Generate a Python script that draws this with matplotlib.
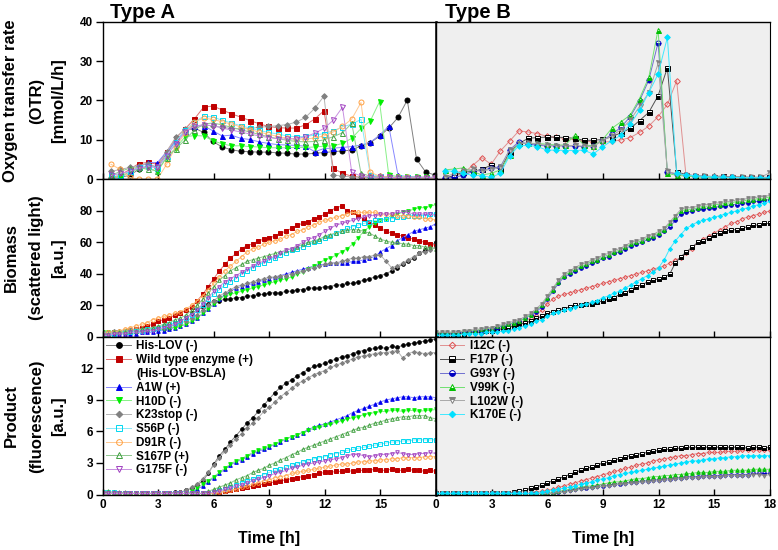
import numpy as np
import matplotlib.pyplot as plt
from matplotlib.lines import Line2D

plt.rcParams['font.family'] = ['Liberation Sans', 'DejaVu Sans']
plt.rcParams['font.weight'] = 'bold'

# Time grids [h]
t_otr_a = np.arange(0.45, 18.0, 0.5)   # OTR, type A (36 points)
t_otr_b = np.arange(0.47, 18.0, 0.5)   # OTR, type B (36 points)
t_bl = np.arange(0, 18.01, 0.3)        # biomass / product (61 points)

names_a = ['His-LOV (-)', 'Wild type enzyme (+)', 'A1W (+)', 'H10D (-)', 'K23stop (-)',
           'S56P (-)', 'D91R (-)', 'S167P (+)', 'G175F (-)']
names_b = ['I12C (-)', 'F17P (-)', 'G93Y (-)', 'V99K (-)', 'L102W (-)', 'K170E (-)']

# ---- OTR [mmol/L/h], type A
otr_hislov = [0.3, 0.5, 1.0, 2.5, 3.5, 3.2, 6.5, 9.8, 12.3, 13.0, 11.9, 9.6, 8.2, 7.5, 7.1, 7.0, 6.9, 6.9,
              6.7, 6.6, 6.4, 6.4, 6.6, 6.8, 7.0, 7.2, 7.4, 8.5, 9.3, 10.9, 13.0, 15.7, 20.1, 5.1, 1.8, 1.1]
otr_wt = [0.5, 1.0, 2.5, 4.0, 4.3, 3.8, 7.0, 10.5, 12.8, 15.3, 18.3, 18.6, 17.6, 16.6, 15.8, 14.9, 14.1, 13.4,
          13.1, 13.0, 13.0, 13.8, 15.3, 17.4, 2.8, 1.5, 0.8, 0.5, 0.4, 0.3, 0.3, 0.3, 0.3, 0.2, 0.2, 0.2]
otr_a1w = [0.0, 0.5, 2.0, 3.0, 4.3, 4.2, 7.0, 9.7, 12.3, 13.4, 13.6, 12.3, 11.0, 11.2, 10.4, 10.1, 9.5, 9.1,
           8.8, 8.7, 8.6, 8.4, 7.0, 7.8, 7.9, 8.1, 8.3, 8.7, 9.4, 11.2, 13.5, 1.0, 0.7, 0.6, 0.5, 0.5]
otr_h10d = [0.9, 0.3, 2.0, 2.5, 3.0, 1.9, 5.5, 8.0, 10.8, 11.1, 11.0, 9.8, 9.0, 8.5, 8.5, 8.3, 8.2, 8.0,
            8.0, 8.0, 8.1, 8.1, 8.2, 8.4, 8.5, 9.1, 10.4, 12.9, 14.8, 19.7, 1.1, 0.7, 0.6, 0.5, 0.5, 0.4]
otr_k23 = [2.0, 2.5, 3.0, 3.5, 4.0, 3.0, 7.0, 10.7, 12.7, 13.5, 13.8, 13.6, 13.2, 12.9, 12.8, 12.9, 13.2, 13.4,
           13.6, 13.9, 14.5, 15.7, 18.0, 21.1, 1.1, 0.8, 0.6, 0.5, 0.5, 0.5, 0.5, 0.5, 0.5, 0.5, 0.5, 0.5]
otr_s56p = [1.0, 1.2, 2.0, 3.0, 3.5, 2.8, 6.0, 9.5, 12.5, 14.5, 16.0, 15.8, 15.0, 14.3, 13.6, 13.0, 12.4, 11.9,
            11.5, 11.0, 10.8, 10.9, 11.2, 11.6, 12.3, 13.3, 14.0, 15.2, 1.2, 0.8, 0.6, 0.5, 0.5, 0.4, 0.4, 0.4]
otr_d91r = [3.8, 2.5, 0.5, 0.0, 0.0, 0.0, 3.8, 8.3, 11.7, 14.6, 15.5, 15.2, 14.6, 14.0, 13.3, 12.6, 12.0, 11.4,
            10.9, 10.4, 10.2, 10.2, 10.5, 11.0, 12.0, 13.4, 15.3, 19.5, 1.8, 0.8, 0.6, 0.5, 0.5, 0.4, 0.4, 0.4]
otr_s167p = [1.0, 2.0, 2.8, 3.0, 2.5, 2.2, 5.5, 7.7, 10.0, 12.5, 14.0, 14.3, 13.8, 13.2, 12.6, 12.0, 11.4, 10.8,
             10.3, 9.9, 9.6, 9.5, 9.6, 10.0, 10.8, 11.8, 14.2, 1.5, 0.8, 0.6, 0.5, 0.5, 0.4, 0.4, 0.4, 0.4]
otr_g175f = [1.0, 1.5, 2.0, 2.8, 3.2, 3.0, 6.0, 9.0, 12.0, 13.5, 13.8, 13.6, 13.0, 12.5, 12.0, 11.5, 11.0, 10.6,
             10.3, 10.2, 10.3, 10.8, 11.7, 12.9, 15.0, 18.3, 1.8, 0.8, 0.6, 0.5, 0.5, 0.4, 0.4, 0.4, 0.4, 0.4]

# ---- OTR [mmol/L/h], type B
otr_i12c = [0.3, 0.8, 1.5, 3.5, 5.5, 3.8, 7.2, 9.7, 12.3, 12.0, 11.6, 10.9, 10.7, 10.3, 10.1, 9.7, 9.5, 9.4,
            9.6, 10.0, 10.6, 11.9, 13.5, 15.9, 19.0, 25.0, 1.1, 0.8, 0.6, 0.5, 0.5, 0.4, 0.4, 0.4, 0.3, 0.3]
otr_f17p = [0.2, 1.0, 1.8, 2.0, 2.5, 3.6, 2.4, 7.0, 9.1, 10.4, 10.6, 10.7, 10.7, 10.6, 10.4, 9.9, 9.9, 10.1,
            10.8, 11.8, 12.9, 14.9, 17.0, 21.2, 28.3, 1.9, 1.2, 0.9, 0.8, 0.7, 0.8, 0.6, 0.6, 0.5, 0.5, 0.5]
otr_g93y = [0.3, 0.5, 1.0, 2.0, 2.3, 2.8, 3.2, 7.5, 9.5, 9.0, 8.6, 8.5, 8.5, 8.5, 8.4, 8.3, 8.5, 9.8,
            11.4, 13.2, 15.9, 19.9, 25.2, 34.7, 1.8, 1.3, 1.0, 0.8, 0.7, 0.6, 0.5, 0.5, 0.4, 0.4, 0.4, 0.4]
otr_v99k = [2.4, 2.6, 2.9, 2.0, 1.1, 1.5, 2.4, 6.2, 9.1, 9.1, 9.1, 8.9, 8.7, 8.7, 11.2, 8.7, 8.5, 10.0,
            12.9, 14.6, 16.3, 20.5, 25.9, 38.0, 1.5, 1.0, 0.8, 0.6, 0.5, 0.5, 0.4, 0.4, 0.4, 0.3, 0.3, 0.3]
otr_l102w = [0.5, 1.5, 2.2, 2.5, 2.0, 2.6, 3.0, 7.5, 9.0, 9.2, 9.0, 8.6, 8.5, 8.5, 8.6, 8.4, 8.3, 9.8,
             11.0, 12.6, 15.0, 18.5, 22.0, 29.4, 2.0, 1.4, 1.1, 0.9, 0.8, 0.7, 0.6, 0.6, 0.5, 0.5, 0.5, 1.6]
otr_k170e = [2.2, 2.0, 1.5, 1.0, 0.9, 0.5, 1.5, 6.0, 8.5, 8.6, 8.3, 7.4, 7.4, 7.3, 7.3, 7.4, 6.4, 8.2,
             9.8, 11.2, 14.0, 17.5, 22.0, 26.7, 36.0, 1.5, 1.1, 0.9, 0.7, 0.6, 0.5, 0.5, 0.4, 0.4, 0.4, 0.4]

# ---- Biomass (scattered light) [a.u.], type A
bio_hislov = [2, 2, 3, 3, 3, 4, 3, 4, 4, 5, 5, 5, 6, 8, 10, 12, 15, 17, 19, 21,
              23, 23, 24, 24, 25, 25, 26, 26, 27, 27, 28, 28, 28, 29, 29, 30, 30, 31, 31, 31,
              32, 32, 33, 33, 34, 34, 35, 36, 37, 38, 39, 40, 42, 44, 46, 48, 50, 53, 55, 58, 60]
bio_wt = [2, 2, 3, 3, 4, 4, 5, 6, 7, 8, 10, 11, 12, 14, 15, 17, 19, 23, 27, 32,
          37, 42, 46, 50, 53, 56, 58, 59, 61, 62, 63, 64, 66, 67, 69, 71, 72, 73, 75, 76,
          78, 80, 82, 83, 80, 79, 77, 75, 73, 71, 69, 67, 66, 65, 64, 63, 62, 61, 60, 59, 58]
bio_a1w = [1, 1, 1, 2, 2, 2, 2, 3, 3, 3, 4, 4, 5, 6, 7, 8, 10, 12, 15, 18,
           21, 24, 27, 29, 31, 32, 33, 34, 35, 36, 37, 38, 39, 40, 41, 42, 43, 44, 45, 46,
           46, 47, 47, 47, 47, 48, 48, 49, 50, 51, 54, 56, 58, 61, 63, 65, 67, 68, 69, 70, 72]
bio_h10d = [3, 3, 3, 3, 4, 4, 4, 4, 5, 5, 5, 5, 6, 6, 7, 8, 10, 12, 15, 18,
            21, 24, 26, 27, 28, 29, 30, 31, 32, 33, 34, 35, 36, 37, 38, 40, 41, 43, 45, 47,
            49, 50, 52, 54, 56, 59, 63, 67, 70, 72, 74, 75, 77, 78, 79, 80, 81, 82, 82, 83, 84]
bio_k23 = [3, 3, 4, 4, 4, 5, 5, 5, 5, 6, 6, 7, 7, 8, 9, 10, 12, 14, 17, 20,
           23, 26, 28, 30, 32, 33, 34, 35, 36, 37, 38, 38, 39, 39, 40, 41, 42, 43, 44, 45,
           46, 47, 47, 48, 49, 50, 50, 51, 51, 52, 52, 48, 44, 45, 47, 49, 51, 53, 54, 55, 57]
bio_s56p = [2, 2, 2, 3, 3, 3, 4, 4, 5, 5, 6, 7, 8, 9, 10, 12, 14, 17, 20, 24,
            27, 30, 33, 35, 37, 40, 42, 44, 46, 47, 49, 50, 52, 53, 55, 56, 57, 59, 60, 61,
            63, 64, 66, 67, 69, 70, 71, 72, 73, 74, 74, 75, 75, 76, 76, 77, 77, 77, 77, 78, 78]
bio_d91r = [2, 3, 3, 4, 5, 6, 7, 8, 9, 11, 12, 13, 14, 15, 16, 18, 20, 23, 26, 30,
            34, 38, 42, 45, 48, 51, 54, 56, 57, 59, 60, 61, 62, 64, 65, 67, 68, 70, 71, 73,
            74, 75, 76, 77, 78, 79, 79, 79, 79, 79, 78, 78, 78, 77, 77, 77, 76, 76, 75, 75, 74]
bio_s167p = [2, 2, 3, 3, 3, 4, 4, 5, 5, 6, 7, 8, 9, 11, 12, 14, 17, 20, 24, 28,
             32, 36, 39, 42, 44, 46, 48, 49, 50, 51, 52, 53, 54, 55, 56, 57, 59, 60, 61, 62,
             64, 65, 66, 67, 68, 68, 68, 67, 66, 64, 62, 61, 60, 60, 59, 59, 58, 58, 57, 57, 56]
bio_g175f = [1, 1, 2, 2, 2, 3, 3, 3, 4, 4, 5, 6, 7, 8, 10, 12, 14, 17, 21, 25,
             29, 32, 35, 37, 39, 41, 43, 45, 47, 48, 50, 51, 53, 55, 56, 58, 60, 62, 63, 65,
             67, 69, 71, 72, 73, 74, 75, 76, 77, 77, 78, 78, 78, 79, 79, 79, 78, 78, 78, 78, 77]

# ---- Biomass (scattered light) [a.u.], type B
bio_i12c = [2, 2, 2, 2, 2, 3, 3, 3, 4, 4, 5, 5, 6, 7, 8, 9, 10, 12, 14, 17,
            21, 24, 26, 27, 28, 29, 30, 31, 32, 33, 34, 35, 36, 37, 38, 39, 40, 41, 42, 43,
            44, 45, 47, 49, 50, 53, 56, 60, 62, 64, 66, 68, 70, 72, 73, 75, 76, 77, 78, 79, 80]
bio_f17p = [2, 2, 2, 2, 2, 2, 3, 3, 3, 4, 4, 5, 5, 6, 7, 8, 9, 10, 12, 13,
            15, 16, 17, 18, 19, 20, 20, 21, 21, 22, 23, 24, 25, 27, 28, 30, 32, 33, 35, 36,
            37, 38, 40, 47, 51, 54, 57, 60, 61, 63, 65, 66, 67, 68, 68, 69, 70, 71, 71, 72, 72]
bio_g93y = [2, 2, 2, 2, 3, 3, 3, 4, 4, 5, 5, 6, 7, 8, 9, 10, 12, 14, 16, 19,
            24, 29, 34, 38, 40, 42, 44, 45, 47, 48, 50, 51, 53, 54, 56, 58, 59, 60, 62, 63,
            65, 67, 70, 74, 78, 79, 80, 81, 81, 82, 82, 83, 83, 84, 84, 85, 85, 86, 86, 87, 87]
bio_v99k = [3, 3, 3, 3, 3, 4, 4, 4, 5, 5, 6, 7, 7, 8, 9, 10, 12, 14, 17, 20,
            25, 30, 35, 39, 41, 43, 45, 46, 48, 49, 51, 52, 54, 55, 57, 59, 60, 61, 63, 64,
            66, 68, 72, 76, 80, 81, 81, 82, 83, 83, 84, 84, 85, 85, 86, 86, 87, 87, 88, 88, 89]
bio_l102w = [3, 3, 3, 3, 3, 4, 4, 5, 5, 6, 6, 7, 8, 9, 10, 11, 13, 15, 18, 21,
             26, 31, 36, 40, 42, 44, 46, 47, 49, 50, 52, 53, 55, 56, 58, 60, 61, 62, 64, 65,
             67, 69, 73, 77, 81, 82, 82, 83, 84, 84, 85, 85, 86, 86, 87, 87, 88, 88, 89, 89, 90]
bio_k170e = [1, 1, 1, 1, 1, 2, 2, 2, 2, 3, 3, 3, 4, 4, 5, 6, 7, 8, 10, 11,
             13, 15, 16, 17, 18, 19, 20, 21, 22, 23, 25, 26, 28, 29, 31, 33, 35, 37, 39, 41,
             44, 49, 56, 61, 65, 69, 71, 73, 74, 75, 76, 77, 78, 79, 80, 81, 82, 83, 84, 85, 86]

# ---- Product (fluorescence) [a.u.], type A
pr_hislov = [0.1, 0.1, 0.1, 0.1, 0.1, 0.1, 0.1, 0.1, 0.1, 0.1, 0.1, 0.1, 0.1, 0.2, 0.2, 0.4, 0.6, 0.9, 1.3, 2.0,
             2.9, 3.7, 4.3, 5.0, 5.6, 6.2, 6.8, 7.3, 7.9, 8.5, 9.1, 9.7, 10.2, 10.6, 10.9, 11.3, 11.6, 11.9, 12.2, 12.3,
             12.5, 12.7, 12.9, 13.1, 13.2, 13.4, 13.6, 13.7, 13.8, 13.9, 14.0, 13.9, 14.1, 14.0, 14.2, 14.3, 14.4, 14.5,
             14.6, 14.7, 14.8]
pr_wt = [0.1, 0.1, 0.1, 0.1, 0.1, 0.1, 0.1, 0.1, 0.1, 0.1, 0.1, 0.1, 0.1, 0.1, 0.1, 0.1, 0.1, 0.1, 0.1, 0.1,
         0.1, 0.2, 0.3, 0.4, 0.5, 0.6, 0.7, 0.8, 0.9, 1.0, 1.1, 1.2, 1.3, 1.4, 1.5, 1.6, 1.7, 1.8, 1.9, 2.0,
         2.1, 2.1, 2.2, 2.2, 2.3, 2.2, 2.3, 2.3, 2.3, 2.4, 2.3, 2.3, 2.4, 2.3, 2.3, 2.4, 2.3, 2.3, 2.2, 2.3, 2.2]
pr_a1w = [0.1, 0.1, 0.1, 0.1, 0.1, 0.1, 0.1, 0.1, 0.1, 0.1, 0.1, 0.1, 0.1, 0.1, 0.1, 0.1, 0.2, 0.5, 0.8, 1.2,
          1.6, 2.0, 2.4, 2.8, 3.1, 3.3, 3.6, 3.9, 4.1, 4.3, 4.5, 4.8, 5.0, 5.3, 5.5, 5.7, 5.9, 6.2, 6.4, 6.6,
          6.7, 6.9, 7.1, 7.3, 7.5, 7.8, 8.0, 8.2, 8.4, 8.6, 8.8, 9.0, 9.1, 9.2, 9.3, 9.3, 9.2, 9.3, 9.3, 9.3, 9.2]
pr_h10d = [0.1, 0.1, 0.1, 0.1, 0.1, 0.1, 0.1, 0.1, 0.1, 0.1, 0.1, 0.1, 0.1, 0.1, 0.1, 0.1, 0.3, 0.6, 1.0, 1.3,
           1.7, 2.1, 2.5, 2.9, 3.2, 3.4, 3.7, 4.0, 4.2, 4.4, 4.6, 4.8, 5.1, 5.3, 5.5, 5.7, 5.9, 6.1, 6.3, 6.4,
           6.6, 6.7, 6.9, 7.0, 7.2, 7.3, 7.4, 7.6, 7.7, 7.8, 7.9, 7.9, 8.0, 8.0, 7.9, 8.0, 8.0, 7.9, 8.0, 8.0, 8.1]
pr_k23 = [0.1, 0.1, 0.1, 0.1, 0.1, 0.1, 0.1, 0.1, 0.1, 0.1, 0.1, 0.1, 0.1, 0.1, 0.2, 0.4, 0.7, 1.0, 1.5, 2.1,
          2.8, 3.5, 4.1, 4.7, 5.3, 5.8, 6.3, 6.8, 7.3, 7.9, 8.3, 8.8, 9.3, 9.7, 10.1, 10.5, 10.8, 11.1, 11.4, 11.6,
          11.8, 12.1, 12.3, 12.5, 12.7, 12.9, 13.1, 13.2, 13.3, 13.4, 13.5, 13.5, 13.6, 13.7, 13.0, 13.4, 13.6, 13.5,
          13.4, 13.5, 13.5]
pr_s56p = [0.2, 0.2, 0.2, 0.1, 0.1, 0.1, 0.1, 0.1, 0.1, 0.1, 0.1, 0.1, 0.1, 0.1, 0.1, 0.1, 0.1, 0.1, 0.1, 0.1,
           0.2, 0.4, 0.5, 0.7, 0.9, 1.1, 1.3, 1.5, 1.7, 1.9, 2.1, 2.3, 2.4, 2.6, 2.8, 2.9, 3.1, 3.2, 3.4, 3.5,
           3.6, 3.8, 3.9, 4.0, 4.2, 4.3, 4.4, 4.5, 4.6, 4.7, 4.8, 4.9, 5.0, 5.0, 5.1, 5.1, 5.2, 5.2, 5.2, 5.2, 5.2]
pr_d91r = [0.1, 0.1, 0.1, 0.1, 0.1, 0.1, 0.1, 0.1, 0.1, 0.1, 0.1, 0.1, 0.1, 0.1, 0.1, 0.1, 0.1, 0.1, 0.1, 0.1,
           0.1, 0.2, 0.3, 0.4, 0.5, 0.7, 0.8, 1.0, 1.1, 1.3, 1.4, 1.6, 1.7, 1.8, 2.0, 2.1, 2.2, 2.3, 2.4, 2.5,
           2.6, 2.7, 2.8, 2.9, 2.9, 3.0, 3.1, 3.1, 3.2, 3.2, 3.3, 3.3, 3.4, 3.4, 3.5, 3.5, 3.5, 3.5, 3.6, 3.6, 3.6]
pr_s167p = [0.3, 0.3, 0.2, 0.2, 0.2, 0.1, 0.1, 0.1, 0.1, 0.1, 0.1, 0.1, 0.1, 0.1, 0.1, 0.1, 0.1, 0.1, 0.1, 0.3,
            0.5, 0.7, 0.9, 1.1, 1.4, 1.6, 1.8, 2.1, 2.3, 2.5, 2.8, 3.0, 3.3, 3.5, 3.8, 4.0, 4.3, 4.5, 4.7, 4.9,
            5.1, 5.3, 5.5, 5.7, 5.9, 6.1, 6.3, 6.4, 6.6, 6.8, 6.9, 7.1, 7.2, 7.3, 7.4, 7.4, 7.5, 7.5, 7.5, 7.3, 7.2]
pr_g175f = [0.1, 0.1, 0.1, 0.1, 0.1, 0.1, 0.1, 0.1, 0.1, 0.1, 0.1, 0.1, 0.1, 0.1, 0.1, 0.1, 0.1, 0.1, 0.1, 0.1,
            0.2, 0.3, 0.5, 0.6, 0.8, 0.9, 1.1, 1.3, 1.5, 1.6, 1.8, 2.0, 2.1, 2.3, 2.5, 2.6, 2.8, 2.9, 3.0, 3.1,
            3.2, 3.3, 3.4, 3.5, 3.7, 3.8, 3.8, 3.7, 3.6, 3.7, 3.8, 3.8, 3.9, 4.0, 3.9, 3.8, 3.8, 3.9, 3.9, 4.0, 3.9]

# ---- Product (fluorescence) [a.u.], type B
pr_i12c = [0.1, 0.1, 0.1, 0.1, 0.1, 0.1, 0.1, 0.1, 0.1, 0.1, 0.1, 0.1, 0.1, 0.1, 0.1, 0.1, 0.1, 0.1, 0.2, 0.3,
           0.4, 0.5, 0.7, 0.8, 1.0, 1.1, 1.3, 1.4, 1.6, 1.7, 1.9, 2.0, 2.2, 2.3, 2.5, 2.6, 2.8, 2.9, 3.0, 3.2,
           3.3, 3.4, 3.5, 3.6, 3.7, 3.7, 3.8, 3.9, 3.9, 4.0, 4.0, 4.0, 4.1, 4.1, 4.1, 4.2, 4.2, 4.2, 4.2, 4.2, 4.2]
pr_f17p = [0.1, 0.1, 0.1, 0.1, 0.1, 0.1, 0.1, 0.1, 0.1, 0.1, 0.1, 0.1, 0.1, 0.1, 0.2, 0.3, 0.4, 0.6, 0.7, 0.9,
           1.1, 1.3, 1.5, 1.7, 1.9, 2.1, 2.3, 2.5, 2.6, 2.8, 3.0, 3.1, 3.3, 3.4, 3.6, 3.7, 3.8, 3.9, 4.0, 4.1,
           4.2, 4.3, 4.3, 4.4, 4.4, 4.5, 4.5, 4.5, 4.5, 4.5, 4.5, 4.5, 4.5, 4.5, 4.5, 4.5, 4.4, 4.5, 4.5, 4.4, 4.5]
pr_g93y = [0.1, 0.1, 0.1, 0.1, 0.1, 0.1, 0.1, 0.1, 0.1, 0.1, 0.1, 0.1, 0.1, 0.1, 0.1, 0.1, 0.1, 0.1, 0.1, 0.1,
           0.1, 0.1, 0.2, 0.3, 0.4, 0.5, 0.6, 0.6, 0.7, 0.8, 0.8, 0.9, 1.0, 1.0, 1.1, 1.2, 1.2, 1.3, 1.3, 1.4,
           1.4, 1.5, 1.5, 1.6, 1.6, 1.7, 1.7, 1.7, 1.8, 1.8, 1.8, 1.8, 1.9, 1.9, 1.9, 1.9, 1.9, 2.0, 2.0, 2.0, 2.0]
pr_v99k = [0.1, 0.1, 0.1, 0.1, 0.1, 0.1, 0.1, 0.1, 0.1, 0.1, 0.1, 0.1, 0.1, 0.1, 0.1, 0.1, 0.1, 0.1, 0.1, 0.1,
           0.1, 0.2, 0.3, 0.4, 0.5, 0.6, 0.7, 0.8, 0.8, 0.9, 1.0, 1.1, 1.2, 1.2, 1.3, 1.4, 1.5, 1.5, 1.6, 1.7,
           1.7, 1.8, 1.8, 1.9, 1.9, 2.0, 2.0, 2.1, 2.1, 2.1, 2.2, 2.2, 2.2, 2.3, 2.3, 2.3, 2.3, 2.4, 2.4, 2.4, 2.4]
pr_l102w = [0.1, 0.1, 0.1, 0.1, 0.1, 0.1, 0.1, 0.1, 0.1, 0.1, 0.1, 0.1, 0.1, 0.1, 0.1, 0.1, 0.1, 0.1, 0.1, 0.1,
            0.1, 0.1, 0.2, 0.2, 0.3, 0.4, 0.5, 0.6, 0.6, 0.7, 0.8, 0.8, 0.9, 1.0, 1.0, 1.1, 1.1, 1.2, 1.2, 1.3,
            1.3, 1.4, 1.4, 1.5, 1.5, 1.6, 1.6, 1.6, 1.7, 1.7, 1.7, 1.7, 1.8, 1.8, 1.8, 1.8, 1.8, 1.9, 1.9, 1.8, 1.9]
pr_k170e = [0.1, 0.1, 0.1, 0.1, 0.1, 0.1, 0.1, 0.1, 0.1, 0.1, 0.1, 0.1, 0.1, 0.1, 0.1, 0.1, 0.1, 0.1, 0.1, 0.2,
            0.3, 0.4, 0.5, 0.6, 0.7, 0.8, 1.0, 1.1, 1.2, 1.4, 1.5, 1.6, 1.8, 1.9, 2.0, 2.1, 2.2, 2.3, 2.4, 2.5,
            2.6, 2.7, 2.8, 2.9, 3.0, 3.1, 3.2, 3.2, 3.3, 3.4, 3.4, 3.5, 3.5, 3.6, 3.6, 3.7, 3.7, 3.7, 3.7, 3.7, 3.7]

otr_a = [otr_hislov, otr_wt, otr_a1w, otr_h10d, otr_k23, otr_s56p, otr_d91r, otr_s167p, otr_g175f]
bio_a = [bio_hislov, bio_wt, bio_a1w, bio_h10d, bio_k23, bio_s56p, bio_d91r, bio_s167p, bio_g175f]
pr_a = [pr_hislov, pr_wt, pr_a1w, pr_h10d, pr_k23, pr_s56p, pr_d91r, pr_s167p, pr_g175f]
otr_b = [otr_i12c, otr_f17p, otr_g93y, otr_v99k, otr_l102w, otr_k170e]
bio_b = [bio_i12c, bio_f17p, bio_g93y, bio_v99k, bio_l102w, bio_k170e]
pr_b = [pr_i12c, pr_f17p, pr_g93y, pr_v99k, pr_l102w, pr_k170e]

# marker colour, line colour, marker, fill
styles_a = [('black', '#808080', 'o', 'full'),
            ('#c00000', '#e07070', 's', 'full'),
            ('#0000ee', '#8888ff', '^', 'full'),
            ('#00ee00', '#88f088', 'v', 'full'),
            ('#808080', '#b4b4b4', 'D', 'full'),
            ('#00d8f0', '#88e8f8', 's', 'none'),
            ('#ffa040', '#ffc890', 'o', 'none'),
            ('#40a040', '#90c890', '^', 'none'),
            ('#a040c0', '#c890e0', 'v', 'none')]
styles_b = [('#e05050', '#e09090', 'D', 'none'),
            ('black', '#505050', 's', 'bottom'),
            ('#0000c0', '#7070d0', 'o', 'bottom'),
            ('#00c000', '#70e070', '^', 'bottom'),
            ('#808080', '#a8a8a8', 'v', 'top'),
            ('#00e0ff', '#40e8ff', 'D', 'full')]


def draw(ax, t, y, st, ms):
    c, lc, mk, fill = st
    if mk == 'D':
        ms = ms * 0.8
    if fill == 'none':
        ln, = ax.plot(t, y, color=lc, lw=0.7, marker=mk, ms=ms, fillstyle='none',
                      mec=c, mew=0.7)
    else:
        ln, = ax.plot(t, y, color=lc, lw=0.7, marker=mk, ms=ms, fillstyle=fill,
                      mfc=c, mec=c, markerfacecoloralt='white', mew=0.7)
    return ln


fig = plt.figure(figsize=(7.78, 5.5), dpi=100)
lefts = [0.132, 0.5604]
widths = [0.4284, 0.4293]
bottoms = [0.674, 0.3873, 0.1009]
height = 0.2866
ylims = [40, 100, 15]
yticks = [[0, 10, 20, 30, 40], [0, 20, 40, 60, 80], [0, 3, 6, 9, 12]]

axs = [[None, None], [None, None], [None, None]]
for r in range(3):
    for c in range(2):
        ax = fig.add_axes([lefts[c], bottoms[r], widths[c], height])
        axs[r][c] = ax
        ax.set_xlim(0, 18)
        ax.set_ylim(0, ylims[r])
        ax.set_xticks([0, 3, 6, 9, 12, 15, 18])
        ax.tick_params(axis='x', direction='in', length=4, width=1, labelsize=8.5, pad=3)
        if r < 2:
            ax.tick_params(axis='x', labelbottom=False)
        if c == 0:
            ax.set_yticks(yticks[r])
            ax.tick_params(axis='y', direction='out', length=5, width=1, labelsize=8.5, pad=2)
            ax.spines['right'].set_linewidth(1.8)
        else:
            ax.set_yticks([])
            ax.set_facecolor('#efefef')
        for s in ['top', 'bottom', 'left']:
            ax.spines[s].set_linewidth(1.0)

axs[2][0].set_xticklabels(['0', '3', '6', '9', '12', '15', ''])

# Type A
for i in range(9):
    draw(axs[0][0], t_otr_a, otr_a[i], styles_a[i], 3.6)
    draw(axs[1][0], t_bl, bio_a[i], styles_a[i], 2.6)
hands_a = []
for i in range(9):
    hands_a.append(draw(axs[2][0], t_bl, pr_a[i], styles_a[i], 2.6))

# Type B
for i in range(6):
    draw(axs[0][1], t_otr_b, otr_b[i], styles_b[i], 3.6)
    draw(axs[1][1], t_bl, bio_b[i], styles_b[i], 2.6)
hands_b = []
for i in range(6):
    hands_b.append(draw(axs[2][1], t_bl, pr_b[i], styles_b[i], 2.6))

blank = Line2D([], [], linestyle='none', marker='')
leg_h = [hands_a[0], hands_a[1], blank] + hands_a[2:]
leg_l = [names_a[0], names_a[1], '(His-LOV-BSLA)'] + names_a[2:]
leg_kw = dict(loc='upper left', frameon=False, fontsize=8.5, handlelength=2.1,
              handletextpad=0.45, labelspacing=0.15, borderaxespad=0.0, borderpad=0.3,
              markerscale=1.6, numpoints=1)
axs[2][0].legend(leg_h, leg_l, **leg_kw)
axs[2][1].legend(hands_b, names_b, **leg_kw)

# titles and axis labels
fig.text(0.141, 0.995, 'Type A', fontsize=14.5, fontweight='bold', va='top', ha='left')
fig.text(0.572, 0.995, 'Type B', fontsize=14.5, fontweight='bold', va='top', ha='left')

row_y = [0.817, 0.531, 0.2436]
ylabels = [['Oxygen transfer rate', '(OTR)', '[mmol/L/h]'],
           ['Biomass', '(scattered light)', '[a.u.]'],
           ['Product', '(fluorescence)', '[a.u.]']]
col_x = [11 / 778, 37 / 778, 59 / 778]
for r in range(3):
    for k in range(3):
        fig.text(col_x[k], row_y[r], ylabels[r][k], rotation=90, fontsize=12,
                 fontweight='bold', ha='center', va='center')

fig.text((102.7 + 436) / 2 / 778, 0.02, 'Time [h]', fontsize=11.5, fontweight='bold',
         ha='center', va='center')
fig.text((436 + 770) / 2 / 778, 0.02, 'Time [h]', fontsize=11.5, fontweight='bold',
         ha='center', va='center')

fig.savefig('out.png', dpi=100)
